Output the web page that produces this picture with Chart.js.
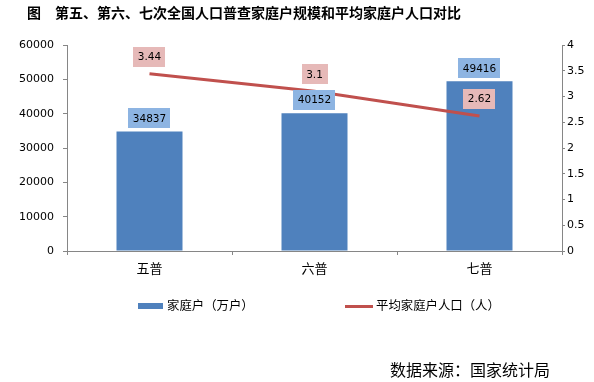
<!DOCTYPE html>
<html>
<head>
<meta charset="utf-8">
<script src="https://cdn.jsdelivr.net/npm/chart.js@4/dist/chart.umd.min.js"></script>
<style>
  html, body { margin: 0; padding: 0; background: #fff; }
  #wrap { position: relative; width: 594px; height: 382px; overflow: hidden; background: #fff; }
  #c { position: absolute; left: 0; top: 0; }
  .txt { position: absolute; white-space: nowrap; font-family: "Noto Sans CJK SC", sans-serif; color: #000; }
  #title { left: 27px; top: 4px; font-size: 14px; line-height: 16px; font-weight: bold; }
  #source { left: 390px; top: 360px; font-size: 16px; line-height: 18px; }
  .leg { position: absolute; font-family: "Noto Sans CJK SC", sans-serif; font-size: 12.4px; line-height: 14px; white-space: nowrap; }
  .sw { position: absolute; }
</style>
</head>
<body>
<div id="wrap">
  <canvas id="c" width="594" height="382"></canvas>
  <div id="title" class="txt">图　第五、第六、七次全国人口普查家庭户规模和平均家庭户人口对比</div>
  <div id="legend"></div>
  <div id="source" class="txt">数据来源：国家统计局</div>
</div>
<script>
const categories = ['五普', '六普', '七普'];
const households = [34837, 40152, 49416];
const avgSize = [3.44, 3.1, 2.62];
const seriesNames = ['家庭户（万户）', '平均家庭户人口（人）'];
const leftMax = 60000, leftStep = 10000;
const rightMax = 4, rightStep = 0.5;

const BAR_COLOR = '#4F81BD';
const LINE_COLOR = '#C0504D';
const AXIS_COLOR = '#868686';

const labelPlugin = {
  id: 'boxLabels',
  afterDatasetsDraw(chart) {
    const ctx = chart.ctx;
    ctx.save();
    ctx.font = '10.5px "DejaVu Sans"';
    ctx.textAlign = 'center';
    ctx.textBaseline = 'middle';
    chart.data.datasets.forEach((ds, di) => {
      const meta = chart.getDatasetMeta(di);
      meta.data.forEach((el, i) => {
        const txt = String(ds.data[i]);
        const cy = ds.type === 'bar' ? el.y - 13 : el.y - 17;
        const w = ctx.measureText(txt).width + 9;
        const h = 20;
        ctx.fillStyle = ds.type === 'bar' ? '#8DB4E2' : '#E6B9B8';
        ctx.fillRect(Math.round(el.x - w / 2), Math.round(cy - h / 2), Math.round(w), h);
        ctx.fillStyle = '#000';
        ctx.fillText(txt, el.x, cy + 0.5);
      });
    });
    ctx.restore();
  }
};

new Chart(document.getElementById('c'), {
  data: {
    labels: categories,
    datasets: [
      {
        type: 'line',
        label: seriesNames[1],
        data: avgSize,
        yAxisID: 'y1',
        borderColor: LINE_COLOR,
        backgroundColor: LINE_COLOR,
        borderWidth: 3,
        pointRadius: 0,
        tension: 0,
        order: 0
      },
      {
        type: 'bar',
        label: seriesNames[0],
        data: households,
        yAxisID: 'y',
        backgroundColor: BAR_COLOR,
        borderWidth: 0,
        categoryPercentage: 1,
        barPercentage: 0.4,
        order: 1
      }
    ]
  },
  options: {
    responsive: false,
    animation: false,
    devicePixelRatio: 1,
    layout: { padding: { top: 45, bottom: 101, left: 0, right: 0 } },
    plugins: { legend: { display: false }, tooltip: { enabled: false } },
    scales: {
      x: {
        offset: true,
        grid: { offset: true, drawOnChartArea: false, tickLength: 4, color: AXIS_COLOR },
        border: { color: AXIS_COLOR },
        ticks: { color: '#000', font: { family: '"Noto Sans CJK SC"', size: 13 }, padding: 5 },
        afterFit(s) { s.height = 30; }
      },
      y: {
        position: 'left',
        min: 0, max: leftMax,
        grid: { drawOnChartArea: false, tickLength: 4, color: AXIS_COLOR },
        border: { color: AXIS_COLOR },
        ticks: { stepSize: leftStep, color: '#000', font: { family: '"DejaVu Sans"', size: 11 }, padding: 9,
                 callback: v => String(v) },
        afterFit(s) { s.width = 67; }
      },
      y1: {
        position: 'right',
        min: 0, max: rightMax,
        grid: { drawOnChartArea: false, tickLength: 3, color: AXIS_COLOR },
        border: { color: AXIS_COLOR },
        ticks: { stepSize: rightStep, color: '#000', font: { family: '"DejaVu Sans"', size: 11 }, padding: 2,
                 callback: v => String(v) },
        afterFit(s) { s.width = 32; }
      }
    }
  },
  plugins: [labelPlugin]
});

// HTML legend built from the series names
const legend = document.getElementById('legend');
legend.innerHTML =
  '<div class="sw" style="left:138px;top:303px;width:25px;height:6px;background:' + BAR_COLOR + '"></div>' +
  '<div class="leg" style="left:167px;top:298px">' + seriesNames[0] + '</div>' +
  '<div class="sw" style="left:345px;top:305px;width:28px;height:3px;background:' + LINE_COLOR + '"></div>' +
  '<div class="leg" style="left:376px;top:298px">' + seriesNames[1] + '</div>';
</script>
</body>
</html>
